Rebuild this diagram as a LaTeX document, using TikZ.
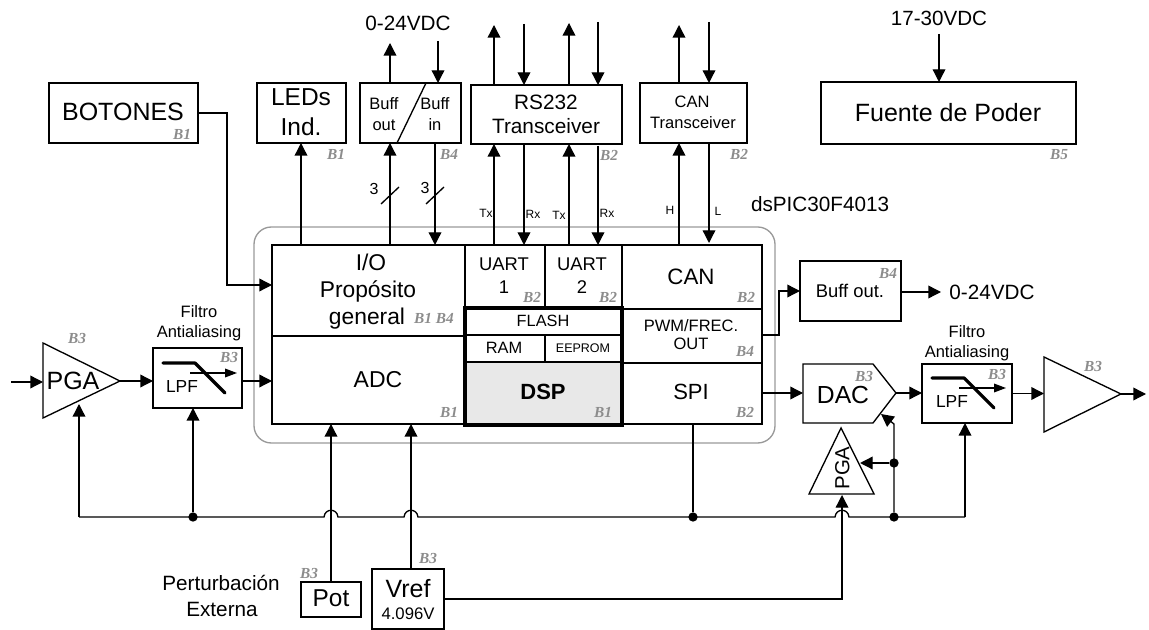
\documentclass[tikz,border=0pt]{standalone}
\usepackage{fontspec}
\setmainfont{Liberation Sans}
\newfontfamily\bfam{Liberation Serif}
\usetikzlibrary{arrows.meta,calc}
\definecolor{bgray}{HTML}{8C8C8C}
\definecolor{dspgray}{HTML}{E8E8E8}
\tikzset{x=0.75pt,y=-0.75pt,
 wire/.style={line width=1pt,black},
 arr/.style={wire,-{Triangle[length=9.5pt,width=9.5pt]}},
 block/.style={draw=black,line width=1pt,inner sep=0pt,outer sep=0pt},
 dotj/.style={circle,fill=black,inner sep=0pt,minimum size=7pt},
 lbl/.style={inner sep=0pt,outer sep=0pt,text depth=0pt},
 blab/.style={inner sep=0pt,outer sep=0pt,text=bgray,font=\bfam\bfseries\itshape\fontsize{11.5}{11.5}\selectfont}}
\newcommand\bx[6][]{\pgfmathsetmacro\bxw{(#5-#3)*0.75}\pgfmathsetmacro\bxh{(#6-#4)*0.75}%
 \node[block,#1,minimum width=\bxw pt,minimum height=\bxh pt] (#2) at ({(#3+#5)/2},{(#4+#6)/2}) {};}
\newcommand\tx[6][]{\pgfmathsetmacro\szz{#5*0.75}\pgfmathsetmacro\tht{#5*0.75*0.72}%
 \node[lbl,#1,text height=\tht pt,font=\fontsize{\szz}{\szz}\selectfont] (#2) at (#3,#4) {#6};}
\newcommand\bl[4]{\node[blab] (#1) at (#2,#3) {#4};}
\newcommand\lpfsym[2]{\begin{scope}[shift={(#1,#2)}]
 \draw[line width=2.4pt,line cap=round,line join=round] (10,15) -- (42,15) -- (72,45);
 \draw[wire,-{Triangle[length=9pt,width=6.5pt]}] (37,25) -- (84,25);
 \end{scope}}
\begin{document}
\begin{tikzpicture}
\useasboundingbox (0,0) rectangle (1149,630);
% grey package outline
\node[draw=gray!80,line width=1pt,rounded corners=13pt,inner sep=0,minimum width=390.75pt,minimum height=162pt] (pkg) at (514.5,335) {};
% chip blocks
\bx{io}{272}{245}{465}{336}
\bx{adc}{272}{336}{465}{424}
\bx{ua}{465}{245}{545}{308}
\bx{ub}{545}{245}{622}{308}
\bx{can}{622}{245}{762}{309}
\bx{pwm}{622}{309}{762}{363}
\bx{spi}{622}{363}{762}{424}
\bx[fill=dspgray]{dsp}{465}{362}{622}{425}
\bx{flash}{465}{308}{622}{335}
\bx{ram}{465}{335}{545}{362}
\bx{eep}{545}{335}{622}{362}
\bx[line width=3pt]{mem}{465}{308}{622}{425}
% top blocks
\bx{bot}{49}{83}{198}{143}
\bx{leds}{257}{83}{346}{143}
\bx{buff}{360}{83}{461}{143}
\bx{rs}{471}{85}{622}{144}
\bx{cant}{640}{83}{747}{143}
\bx{fp}{821}{82}{1076}{144}
% analog blocks
\bx{lpfa}{153}{348}{242}{408}
\bx{lpfb}{922}{364}{1012}{423}
\bx{bo}{800}{261}{901}{321}
\bx{pot}{301}{582}{361}{617}
\bx{vref}{372}{569}{444}{629}
\lpfsym{153}{348}
\lpfsym{922}{363}
\draw[wire] (397,143) -- (426,83);
% triangles and DAC
\coordinate (pga1a) at (43,343); \coordinate (pga1b) at (43,418); \coordinate (pga1c) at (120,381);
\draw[wire] (pga1a) -- (pga1c) -- (pga1b) -- cycle;
\coordinate (ampa) at (1044,357); \coordinate (ampb) at (1044,432); \coordinate (ampc) at (1121,394);
\draw[wire] (ampa) -- (ampc) -- (ampb) -- cycle;
\coordinate (pg2a) at (841,428); \coordinate (pg2b) at (809,494); \coordinate (pg2c) at (874,494);
\draw[wire] (pg2a) -- (pg2b) -- (pg2c) -- cycle;
\coordinate (daca) at (803,364); \coordinate (dacb) at (873,364); \coordinate (dact) at (896,393);
\coordinate (dacc) at (873,423); \coordinate (dacd) at (803,423);
\draw[wire] (daca) -- (dacb) -- (dact) -- (dacc) -- (dacd) -- cycle;
% junctions and free ends
\coordinate (busl) at (79,517);
\node[dotj] (j1) at (193,517) {};
\node[dotj] (j2) at (693,517) {};
\node[dotj] (j3) at (894,517) {};
\node[dotj] (j4) at (894,463) {};
\coordinate (busr) at (965,517);
\coordinate (h1) at (331,517);
\coordinate (h2) at (411,517);
\coordinate (h3) at (842,517);
% bus with hops
\draw[wire] (busl) -- ($(h1)+(-7,0)$) .. controls ($(h1)+(-6,-9)$) and ($(h1)+(6,-9)$) .. ($(h1)+(7,0)$)
 -- ($(h2)+(-7,0)$) .. controls ($(h2)+(-6,-9)$) and ($(h2)+(6,-9)$) .. ($(h2)+(7,0)$)
 -- ($(h3)+(-7,0)$) .. controls ($(h3)+(-6,-9)$) and ($(h3)+(6,-9)$) .. ($(h3)+(7,0)$)
 -- (busr);
\draw[arr] (busl) -- (79,404);
\draw[arr] (j1) -- (j1 |- lpfa.south);
\draw[wire] (spi.south -| j2) -- (j2);
\draw[arr] (busr) -- (busr |- lpfb.south);
\draw[arr] (j3) -- (894,424) -- (881,414);
\draw[arr] (j4) -- (860,463);
\draw[arr] (pot.north -| h1) -- (h1 |- adc.south);
\draw[arr] (vref.north -| h2) -- (h2 |- adc.south);
\draw[arr] (vref.east |- 0,599) -- (842,599) -- (842,495);
% signal chain
\coordinate (in1) at (11,382);
\coordinate (out1) at (1146,394);
\draw[arr] (in1) -- (43,382);
\draw[arr] (pga1c) -- (lpfa.west |- pga1c);
\draw[arr] (lpfa.east |- pga1c) -- (adc.west |- pga1c);
\draw[arr] (spi.east |- dact) -- (dact -| daca);
\draw[arr] (dact) -- (dact -| lpfb.west);
\draw[arr] (lpfb.east) -- (1044,393.5);
\draw[arr] (ampc) -- (out1);
\draw[arr] (pwm.east |- 0,335) -- (779,335) -- (779,291) -- (bo.west |- 0,291);
\coordinate (bout) at (941,292);
\draw[arr] (bo.east |- bout) -- (bout);
% botones
\draw[arr] (bot.east) -- (227,113) -- (227,285) -- (io.west |- 0,285);
% top connectors
\draw[arr] (301,245) -- (301,143);
\draw[arr] (390,245) -- (390,143);
\draw[arr] (390,83) -- (390,43);
\draw[arr] (438,41) -- (438,83);
\draw[arr] (435,143) -- (435,245);
\draw[wire] (381,204) -- (399,187);
\draw[wire] (426,204) -- (444,187);
\draw[arr] (494,245) -- (494,144);
\draw[arr] (494,85) -- (494,25);
\draw[arr] (524,24) -- (524,85);
\draw[arr] (524,144) -- (524,245);
\draw[arr] (569,245) -- (569,144);
\draw[arr] (569,85) -- (569,23);
\draw[arr] (598,22) -- (598,85);
\draw[arr] (598,146) -- (598,245);
\draw[arr] (679,245) -- (679,143);
\draw[arr] (679,83) -- (679,25);
\draw[arr] (709,22) -- (709,83);
\draw[arr] (709,143) -- (709,243);
\draw[arr] (939,34) -- (939,82);
% texts
\tx{t1}{123}{112}{25}{BOTONES}
\tx{t2}{301}{97}{24.5}{LEDs}
\tx{t3}{301}{127}{24.5}{Ind.}
\tx{t4}{408}{23}{20.7}{0-24VDC}
\tx{t5}{384}{104}{16.5}{Buff}
\tx{t6}{384}{125}{16.5}{out}
\tx{t7}{435}{104}{16.5}{Buff}
\tx{t8}{435}{125}{16.5}{in}
\tx{t9}{546}{102}{20.8}{RS232}
\tx{t10}{546}{126}{20.8}{Transceiver}
\tx{t11}{692}{102}{16.5}{CAN}
\tx{t12}{693}{123}{16.5}{Transceiver}
\tx{t13}{948}{113}{25}{Fuente de Poder}
\tx{t14}{939}{18}{20.6}{17-30VDC}
\tx[anchor=west]{t15}{751}{204}{20.7}{dsPIC30F4013}
\tx{t16}{374}{189}{16}{3}
\tx{t17}{425}{188}{16}{3}
\tx{t18}{486}{213}{12}{Tx}
\tx{t19}{533}{214}{12}{Rx}
\tx{t20}{559}{215}{12}{Tx}
\tx{t21}{607}{213}{12}{Rx}
\tx{t22}{670}{210}{12}{H}
\tx{t23}{718}{211}{12}{L}
\tx{t24}{371}{262}{22.8}{I/O}
\tx{t25}{368}{289}{22.8}{Propósito}
\tx{t26}{367}{316}{22.8}{general}
\tx{t27}{378}{379}{23}{ADC}
\tx{t28}{504}{264}{18.4}{UART}
\tx{t29}{504}{287}{18.4}{1}
\tx{t30}{582}{264}{18.4}{UART}
\tx{t31}{582}{287}{18.4}{2}
\tx{t32}{691}{276}{22.3}{CAN}
\tx{t33}{543}{321}{16.3}{FLASH}
\tx{t34}{504}{348}{16.4}{RAM}
\tx{t35}{583}{348}{12.5}{EEPROM}
\tx{t36}{543}{392}{22}{\bfseries DSP}
\tx{t37}{691}{326}{16.5}{PWM/FREC.}
\tx{t38}{691}{344}{16.5}{OUT}
\tx{t39}{691}{392}{22}{SPI}
\tx{t40}{850}{291}{18.4}{Buff out.}
\tx{t41}{992}{292}{20.7}{0-24VDC}
\tx{t42}{843}{395}{24.7}{DAC}
\tx{t43}{73}{381}{25}{PGA}
\tx[rotate=90]{t44}{842}{468}{20.4}{PGA}
\tx{t45}{199}{312}{16.5}{Filtro}
\tx{t46}{199}{332}{16.5}{Antialiasing}
\tx{t47}{967}{332}{16.5}{Filtro}
\tx{t48}{967}{352}{16.5}{Antialiasing}
\tx{t49}{182}{386}{17.4}{LPF}
\tx{t50}{952}{401}{17.4}{LPF}
\tx{t51}{331}{598}{24.4}{Pot}
\tx{t52}{408}{588}{25}{Vref}
\tx{t53}{408}{613}{16.7}{4.096V}
\tx{t54}{221}{583}{20.7}{Perturbación}
\tx{t55}{222}{609}{20.7}{Externa}
% block tags
\bl{b1}{182}{134}{B1}
\bl{b2}{336}{154}{B1}
\bl{b3}{449}{154}{B4}
\bl{b4}{609}{155}{B2}
\bl{b5}{739}{154}{B2}
\bl{b6}{1059}{155}{B5}
\bl{b7}{434}{318}{B1 B4}
\bl{b8}{449}{412}{B1}
\bl{b9}{77}{339}{B3}
\bl{b10}{229}{358}{B3}
\bl{b11}{532}{297}{B2}
\bl{b12}{608}{297}{B2}
\bl{b13}{746}{297}{B2}
\bl{b14}{603}{412}{B1}
\bl{b15}{745}{351}{B4}
\bl{b16}{745}{412}{B2}
\bl{b17}{888}{273}{B4}
\bl{b18}{864}{377}{B3}
\bl{b19}{997}{374}{B3}
\bl{b20}{1093}{367}{B3}
\bl{b21}{309}{573}{B3}
\bl{b22}{428}{558}{B3}
\end{tikzpicture}
\end{document}
